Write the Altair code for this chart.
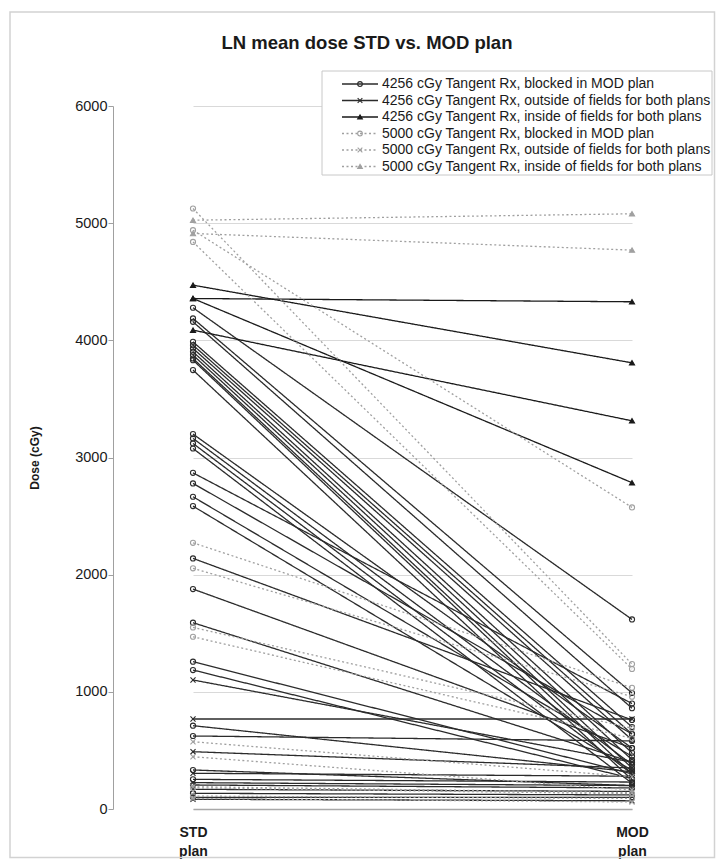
import altair as alt
import pandas as pd

plans = ["STD plan", "MOD plan"]

series = [
    "4256 cGy Tangent Rx, blocked in MOD plan",
    "4256 cGy Tangent Rx, outside of fields for both plans",
    "4256 cGy Tangent Rx, inside of fields for both plans",
    "5000 cGy Tangent Rx, blocked in MOD plan",
    "5000 cGy Tangent Rx, outside of fields for both plans",
    "5000 cGy Tangent Rx, inside of fields for both plans",
]

# 4256 cGy, blocked in MOD plan
s1_std = [4278, 4187, 4158, 3987, 3959, 3931, 3902, 3874, 3845, 3831, 3746,
          3200, 3163, 3120, 3077, 2869, 2779, 2665, 2585, 2139, 1877, 1590,
          1257, 1186, 711, 623, 333, 253, 205, 134, 100]
s1_mod = [1618, 990, 860, 700, 640, 590, 480, 420, 350, 300, 250,
          520, 380, 300, 220, 900, 640, 450, 330, 760, 520, 400,
          300, 260, 317, 581, 200, 230, 180, 120, 100]
# 4256 cGy, outside of fields for both plans
s2_std = [1101, 768, 489, 305, 225, 168, 83]
s2_mod = [400, 768, 350, 280, 200, 150, 70]
# 4256 cGy, inside of fields for both plans
s3_std = [4471, 4357, 4357, 4087]
s3_mod = [3808, 4329, 2785, 3313]
# 5000 cGy, blocked in MOD plan
s4_std = [5125, 4940, 4840, 2272, 2054, 1550, 1470, 180, 110]
s4_mod = [1237, 2574, 1195, 1035, 958, 689, 604, 130, 90]
# 5000 cGy, outside of fields for both plans
s5_std = [574, 446, 190, 90]
s5_mod = [275, 162, 140, 60]
# 5000 cGy, inside of fields for both plans
s6_std = [5025, 4912]
s6_mod = [5080, 4770]

y_ticks = [0, 1000, 2000, 3000, 4000, 5000, 6000]

colors = ["#2b2b2b", "#2b2b2b", "#1a1a1a", "#a0a0a0", "#a0a0a0", "#a0a0a0"]
dashes = [[1, 0], [1, 0], [1, 0], [2, 2.5], [2, 2.5], [2, 2.5]]
xpath = "M-1,-1L1,1M1,-1L-1,1"
shapes = ["circle", xpath, "triangle-up", "circle", xpath, "triangle-up"]
fills = ["transparent", "transparent", "#1a1a1a", "transparent", "transparent", "#a0a0a0"]

rows = []
all_data = [(s1_std, s1_mod), (s2_std, s2_mod), (s3_std, s3_mod),
            (s4_std, s4_mod), (s5_std, s5_mod), (s6_std, s6_mod)]
for si, (st, md) in enumerate(all_data):
    for i, (a, b) in enumerate(zip(st, md)):
        lid = f"{si}-{i}"
        rows.append({"line": lid, "series": series[si], "plan": plans[0], "dose": a})
        rows.append({"line": lid, "series": series[si], "plan": plans[1], "dose": b})
df = pd.DataFrame(rows)
leg_df = pd.DataFrame({"series": series})
one = pd.DataFrame({"k": [0]})

PW, PH = 599, 703

color_scale = alt.Scale(domain=series, range=colors)
dash_scale = alt.Scale(domain=series, range=dashes)
shape_scale = alt.Scale(domain=series, range=shapes)
fill_scale = alt.Scale(domain=series, range=fills)
x_scale = alt.Scale(type="point", domain=plans, range=[80, 519], padding=0)
y_scale = alt.Scale(domain=[0, 6000], nice=False)

x_axis = alt.Axis(title=None, labelExpr="split(datum.label, ' ')",
                  labelAngle=0, labelFontSize=14, labelFontWeight="bold",
                  labelFont="Liberation Sans", labelColor="#1a1a1a",
                  labelPadding=16, ticks=False, domain=True, domainColor="#a8a8a8",
                  domainWidth=1.5, labelLineHeight=19, grid=False)
y_axis = alt.Axis(values=y_ticks, format="d", title="Dose (cGy)", grid=True,
                  gridColor="#d9d9d9", domain=True, domainColor="#a0a0a0",
                  tickColor="#a0a0a0", tickSize=5, labelFontSize=14.5,
                  labelFont="Liberation Sans", labelColor="#1a1a1a", labelPadding=1,
                  titleFontSize=12, titleFont="Liberation Sans", titleFontWeight="bold",
                  titleColor="#1a1a1a", titlePadding=33)

frame = alt.Chart(one).mark_rect(fillOpacity=0, stroke="#d2d2d2", strokeWidth=1.5).encode(
    x=alt.value(-103), x2=alt.value(601.5), y=alt.value(-94), y2=alt.value(751.5))

lines = alt.Chart(df).mark_line(strokeWidth=1.3).encode(
    x=alt.X("plan:N", sort=plans, scale=x_scale, axis=x_axis),
    y=alt.Y("dose:Q", scale=y_scale, axis=y_axis),
    detail="line:N",
    color=alt.Color("series:N", scale=color_scale, legend=None),
    strokeDash=alt.StrokeDash("series:N", scale=dash_scale, legend=None),
)

points = alt.Chart(df).mark_point(size=26, strokeWidth=1.1, opacity=1).encode(
    x=alt.X("plan:N", sort=plans, scale=x_scale, axis=x_axis),
    y=alt.Y("dose:Q", scale=y_scale, axis=y_axis),
    shape=alt.Shape("series:N", scale=shape_scale, legend=None),
    color=alt.Color("series:N", scale=color_scale, legend=None),
    fill=alt.Fill("series:N", scale=fill_scale, legend=None),
)

main = alt.layer(lines, points)

leg_y = alt.Y("series:N", sort=series,
              scale=alt.Scale(type="point", domain=series, range=[-22, 60.5], padding=0),
              axis=None)
leg_box = alt.Chart(one).mark_rect(fill="white", stroke="#c8c8c8", strokeWidth=1).encode(
    x=alt.value(209), x2=alt.value(599), y=alt.value(-35), y2=alt.value(69))
leg_rule = alt.Chart(leg_df).mark_rule(strokeWidth=1.3).encode(
    x=alt.value(229), x2=alt.value(265), y=leg_y,
    color=alt.Color("series:N", scale=color_scale, legend=None),
    strokeDash=alt.StrokeDash("series:N", scale=dash_scale, legend=None))
leg_pt = alt.Chart(leg_df).mark_point(size=22, strokeWidth=1.1, opacity=1).encode(
    x=alt.value(247), y=leg_y,
    shape=alt.Shape("series:N", scale=shape_scale, legend=None),
    color=alt.Color("series:N", scale=color_scale, legend=None),
    fill=alt.Fill("series:N", scale=fill_scale, legend=None))
leg_txt = alt.Chart(leg_df).mark_text(align="left", baseline="middle", fontSize=14,
                                      font="Liberation Sans", color="#1a1a1a").encode(
    x=alt.value(269), y=leg_y, text="series:N")
legend = alt.layer(leg_box, leg_rule, leg_pt, leg_txt)

title = alt.Chart(one).mark_text(fontSize=18.5, fontWeight="bold", font="Liberation Sans",
                                 color="#1a1a1a", baseline="middle", align="center").encode(
    x=alt.value(254), y=alt.value(-63), text=alt.value("LN mean dose STD vs. MOD plan"))

chart = alt.layer(frame, main, legend, title).resolve_scale(y="independent").properties(
    width=PW, height=PH,
    autosize=alt.AutoSizeParams(type="none"),
    padding={"left": 105, "top": 98, "right": 4, "bottom": 50},
    background="white",
).configure_view(strokeWidth=0)

chart.save("out.html", embed_options={"renderer": "svg", "actions": False})
